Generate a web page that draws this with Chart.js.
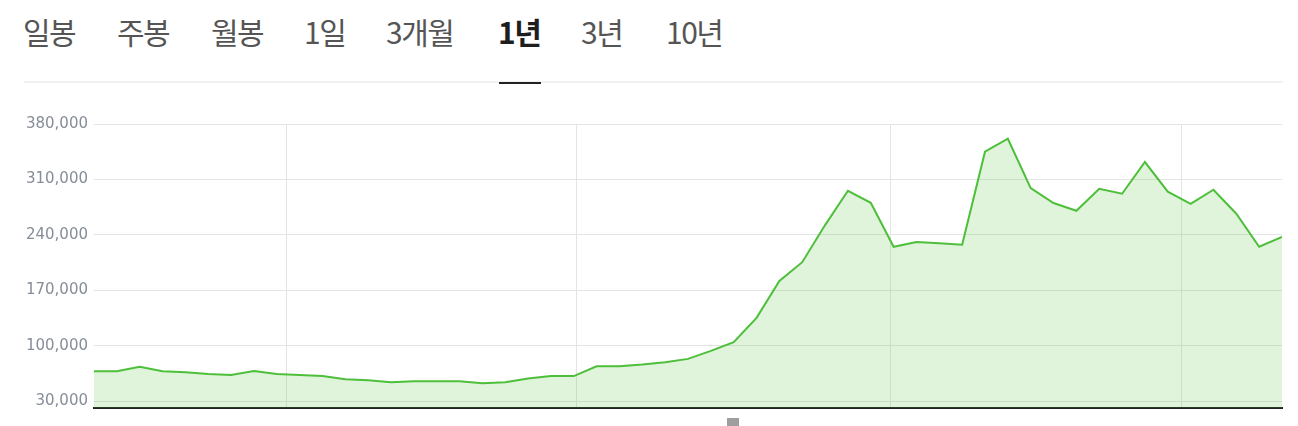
<!DOCTYPE html>
<html lang="ko">
<head>
<meta charset="utf-8">
<script src="https://cdn.jsdelivr.net/npm/chart.js@4.4.1/dist/chart.umd.min.js"></script>
<style>
    html, body {
        margin: 0;
        padding: 0;
        background: #fff;
        width: 1298px;
        height: 426px;
        overflow: hidden;
        position: relative;
    }
    .tab {
        position: absolute;
        top: 15px;
        font-family: "Noto Sans CJK KR", sans-serif;
        font-size: 30px;
        line-height: 32px;
        letter-spacing: -1.5px;
        color: #555;
        white-space: nowrap;
    }
    .tab.active {
        color: #1e1e1e;
        font-weight: bold;
    }
    .tab-line {
        position: absolute;
        left: 24px;
        top: 81px;
        width: 1259px;
        height: 2px;
        background: #f1f1f1;
    }
    .tab-underline {
        position: absolute;
        left: 499px;
        top: 82px;
        width: 42px;
        height: 2px;
        background: #222;
    }
    .chart-box {
        position: absolute;
        left: 0;
        top: 100px;
        width: 1298px;
        height: 326px;
    }
    .scroll-handle {
        position: absolute;
        left: 727px;
        top: 418px;
        width: 12px;
        height: 8px;
        background: #9e9e9e;
    }
</style>
</head>
<body>
<div class="tab" style="left:23px">일봉</div>
<div class="tab" style="left:117px">주봉</div>
<div class="tab" style="left:211px">월봉</div>
<div class="tab" style="left:304px">1일</div>
<div class="tab" style="left:386px">3개월</div>
<div class="tab active" style="left:498px">1년</div>
<div class="tab" style="left:581px">3년</div>
<div class="tab" style="left:666px">10년</div>
<div class="tab-line"></div>
<div class="tab-underline"></div>

<div class="chart-box"><canvas id="priceChart"></canvas></div>
<div class="scroll-handle"></div>

<script>
// ===== 1년 주가 차트 =====

// weekly closing prices (52 weeks + current)
const weeklyPrices = [
    67900, 67900, 73400, 67900, 66600, 64500, 63300, 68300, 64500, 63300,
    62000, 57800, 56500, 54000, 55300, 55300, 55300, 52800, 54000, 58700,
    62000, 61800, 74200, 74200, 76400, 79300, 83500, 93600, 104600, 135300,
    182000, 205600, 252400, 295700, 280600, 225000, 230900, 229600, 227500, 345000,
    361400, 299100, 280200, 270500, 298300, 292000, 332000, 294500, 279300, 297000,
    266700, 225000, 237600
];

// y-axis tick labels
const priceTicks = [30000, 100000, 170000, 240000, 310000, 380000];

// quarter boundaries (in weeks) for vertical grid lines
const quarterMarks = [8.44, 21.12, 34.86, 47.58];

const lineColor = '#4dbf3a';
const fillColor = 'rgba(82, 192, 63, 0.18)';

function drawPriceChart() {
    const ctx = document.getElementById('priceChart').getContext('2d');

    const points = weeklyPrices.map((price, week) => ({ x: week, y: price }));

    new Chart(ctx, {
        type: 'line',
        data: {
            datasets: [{
                data: points,
                borderColor: lineColor,
                borderWidth: 2,
                backgroundColor: fillColor,
                fill: 'start',
                pointRadius: 0,
                tension: 0
            }]
        },
        options: {
            responsive: true,
            maintainAspectRatio: false,
            animation: false,
            layout: {
                padding: { top: 24, right: 16, bottom: 0, left: 0 }
            },
            plugins: {
                legend: { display: false },
                tooltip: { enabled: false }
            },
            scales: {
                x: {
                    type: 'linear',
                    min: 0,
                    max: weeklyPrices.length - 1,
                    afterBuildTicks: (scale) => {
                        scale.ticks = quarterMarks.map(v => ({ value: v }));
                    },
                    afterFit: (scale) => {
                        scale.height = 18;
                    },
                    ticks: { display: false },
                    grid: {
                        color: '#e3e4e6',
                        lineWidth: 1,
                        drawTicks: false
                    },
                    border: {
                        display: true,
                        color: '#222',
                        width: 2
                    }
                },
                y: {
                    min: 21500,
                    max: 380000,
                    afterBuildTicks: (scale) => {
                        scale.ticks = priceTicks.map(v => ({ value: v }));
                    },
                    afterFit: (scale) => {
                        scale.width = 94;
                    },
                    ticks: {
                        padding: 6,
                        color: '#868c98',
                        font: {
                            family: 'DejaVu Sans',
                            size: 15
                        },
                        callback: (value) => value.toLocaleString('en-US')
                    },
                    grid: {
                        color: '#e3e4e6',
                        lineWidth: 1,
                        drawTicks: false
                    },
                    border: { display: false }
                }
            }
        }
    });
}

drawPriceChart();
</script>
</body>
</html>
